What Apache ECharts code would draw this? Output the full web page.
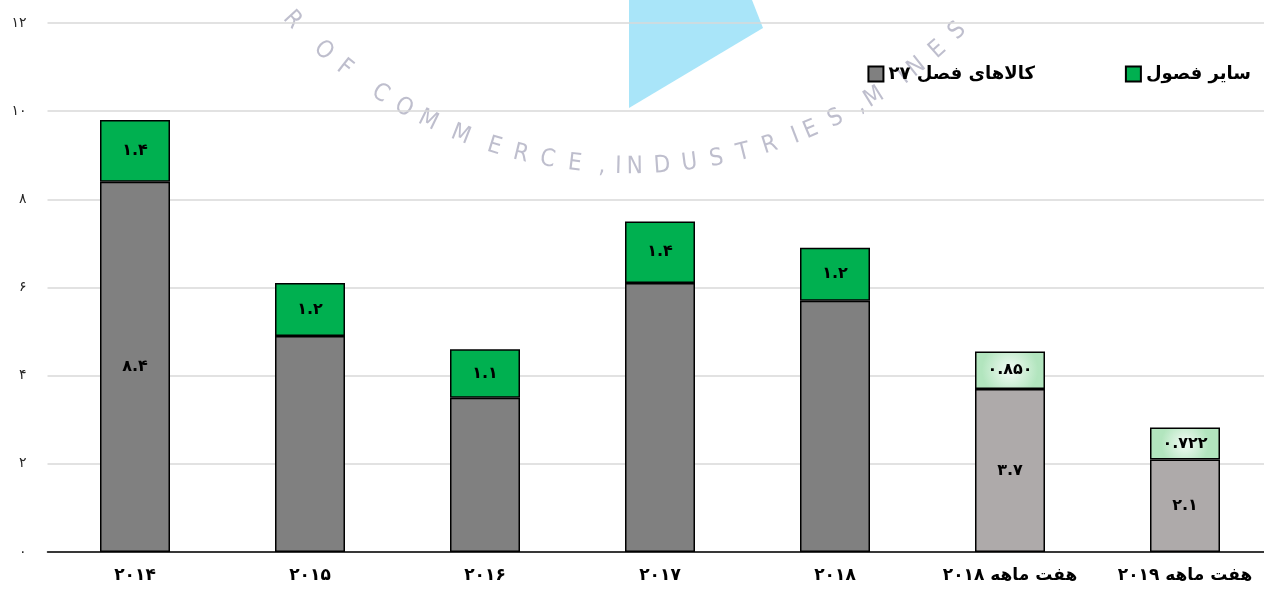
<!DOCTYPE html>
<html>
<head>
<meta charset="utf-8">
<script src="https://cdn.jsdelivr.net/npm/echarts@6/dist/echarts.min.js"></script>
<style>
html,body{margin:0;padding:0;background:#fff;overflow:hidden;width:1264px;height:596px;}
#chart{width:1273px;height:596px;}
</style>
</head>
<body>
<div id="chart"></div>
<script>
// ---- data ----
const categories = ['۲۰۱۴', '۲۰۱۵', '۲۰۱۶', '۲۰۱۷', '۲۰۱۸', 'هفت ماهه ۲۰۱۸', 'هفت ماهه ۲۰۱۹'];
const seriesNames = ['کالاهای فصل ۲۷', 'سایر فصول'];
const chapter27 = [8.4, 4.9, 3.5, 6.1, 5.7, 3.7, 2.1];
const otherChapters = [1.4, 1.2, 1.1, 1.4, 1.2, 0.850, 0.722];
const chapter27LabelShown = [true, false, false, false, false, true, true];
const partialYear = [false, false, false, false, false, true, true];
const yTicks = [0, 2, 4, 6, 8, 10, 12];

const FA = '۰۱۲۳۴۵۶۷۸۹';
function toFa(s) { return String(s).replace(/\d/g, d => FA[+d]); }
const FONT = 'DejaVu Sans';

const grayFull = '#808080';
const grayPart = '#AEAAAA';
const greenFull = '#00B050';
const greenPart = {
  type: 'radial', x: 0.5, y: 0.5, r: 0.75,
  colorStops: [{ offset: 0, color: '#f3fbf5' }, { offset: 1, color: '#b2e5be' }]
};

// ---- watermark (decorative) ----
const wm = [];
wm.push({
  type: 'polygon', z: -10, silent: true,
  shape: { points: [[629, 0], [752, 0], [763, 28], [629, 108]] },
  style: { fill: '#a9e5f9' }
});
const wmText = 'R OF COMMERCE,INDUSTRIES,MINES';
const adv = ch => (ch === ' ' || ch === ',' || ch === 'I') ? 0.6 : (ch === 'M' ? 1.3 : 1);
const cx = 630, cy = -295, r = 462;
const a0 = 47 * Math.PI / 180, step = 3.4 * Math.PI / 180;
let pos = 0;
for (let i = 0; i < wmText.length; i++) {
  const ch = wmText[i];
  const phi = a0 - pos * step;
  pos += adv(ch);
  if (ch === ' ') continue;
  const x = cx - r * Math.sin(phi);
  const y = cy + r * Math.cos(phi);
  wm.push({
    type: 'text', z: -10, silent: true,
    x: x, y: y, rotation: -phi,
    style: {
      text: ch, fill: 'rgba(125,125,155,0.5)',
      font: '24px "DejaVu Sans Condensed", "DejaVu Sans"', align: 'center', verticalAlign: 'middle'
    }
  });
}

const chart = echarts.init(document.getElementById('chart'), null, { renderer: 'canvas' });
const option = {
  backgroundColor: '#ffffff',
  animation: false,
  graphic: wm,
  grid: { left: 47.5, right: 0.5, top: 23, bottom: 44, containLabel: false },
  legend: {
    data: seriesNames,
    right: 17, top: 60,
    itemWidth: 15, itemHeight: 15, itemGap: 90,
    icon: 'rect',
    textStyle: { fontFamily: FONT, fontWeight: 'bold', fontSize: 18, color: '#000' }
  },
  xAxis: {
    type: 'category',
    data: categories,
    axisLine: { show: true, lineStyle: { color: '#000', width: 1.5 } },
    axisTick: { show: false },
    axisLabel: {
      interval: 0, margin: 15,
      fontFamily: FONT, fontWeight: 'bold', fontSize: 17, color: '#000',
      formatter: v => toFa(v)
    }
  },
  yAxis: {
    type: 'value',
    min: yTicks[0], max: yTicks[yTicks.length - 1], interval: 2,
    axisLine: { show: false },
    axisTick: { show: false },
    splitLine: { lineStyle: { color: '#d9d9d9', width: 1.5 } },
    axisLabel: {
      margin: 21, fontFamily: FONT, fontSize: 14, color: '#262626',
      formatter: v => toFa(v)
    }
  },
  series: [
    {
      name: seriesNames[0], type: 'bar', stack: 'total', barWidth: 70,
      itemStyle: { color: grayFull, borderColor: '#000', borderWidth: 1.5 },
      data: chapter27.map((v, i) => ({
        value: v,
        itemStyle: { color: partialYear[i] ? grayPart : grayFull },
        label: { show: chapter27LabelShown[i] }
      })),
      label: {
        position: 'inside', fontFamily: FONT, fontWeight: 'bold', fontSize: 16, color: '#000',
        formatter: p => toFa(p.value.toFixed(1))
      }
    },
    {
      name: seriesNames[1], type: 'bar', stack: 'total', barWidth: 70,
      itemStyle: { color: greenFull, borderColor: '#000', borderWidth: 1.5 },
      data: otherChapters.map((v, i) => ({
        value: v,
        itemStyle: { color: partialYear[i] ? greenPart : greenFull }
      })),
      label: {
        show: true, position: 'inside', fontFamily: FONT, fontWeight: 'bold', fontSize: 16, color: '#000',
        formatter: p => toFa(p.value < 1 ? p.value.toFixed(3) : p.value.toFixed(1))
      }
    }
  ]
};
chart.setOption(option);
</script>
</body>
</html>
